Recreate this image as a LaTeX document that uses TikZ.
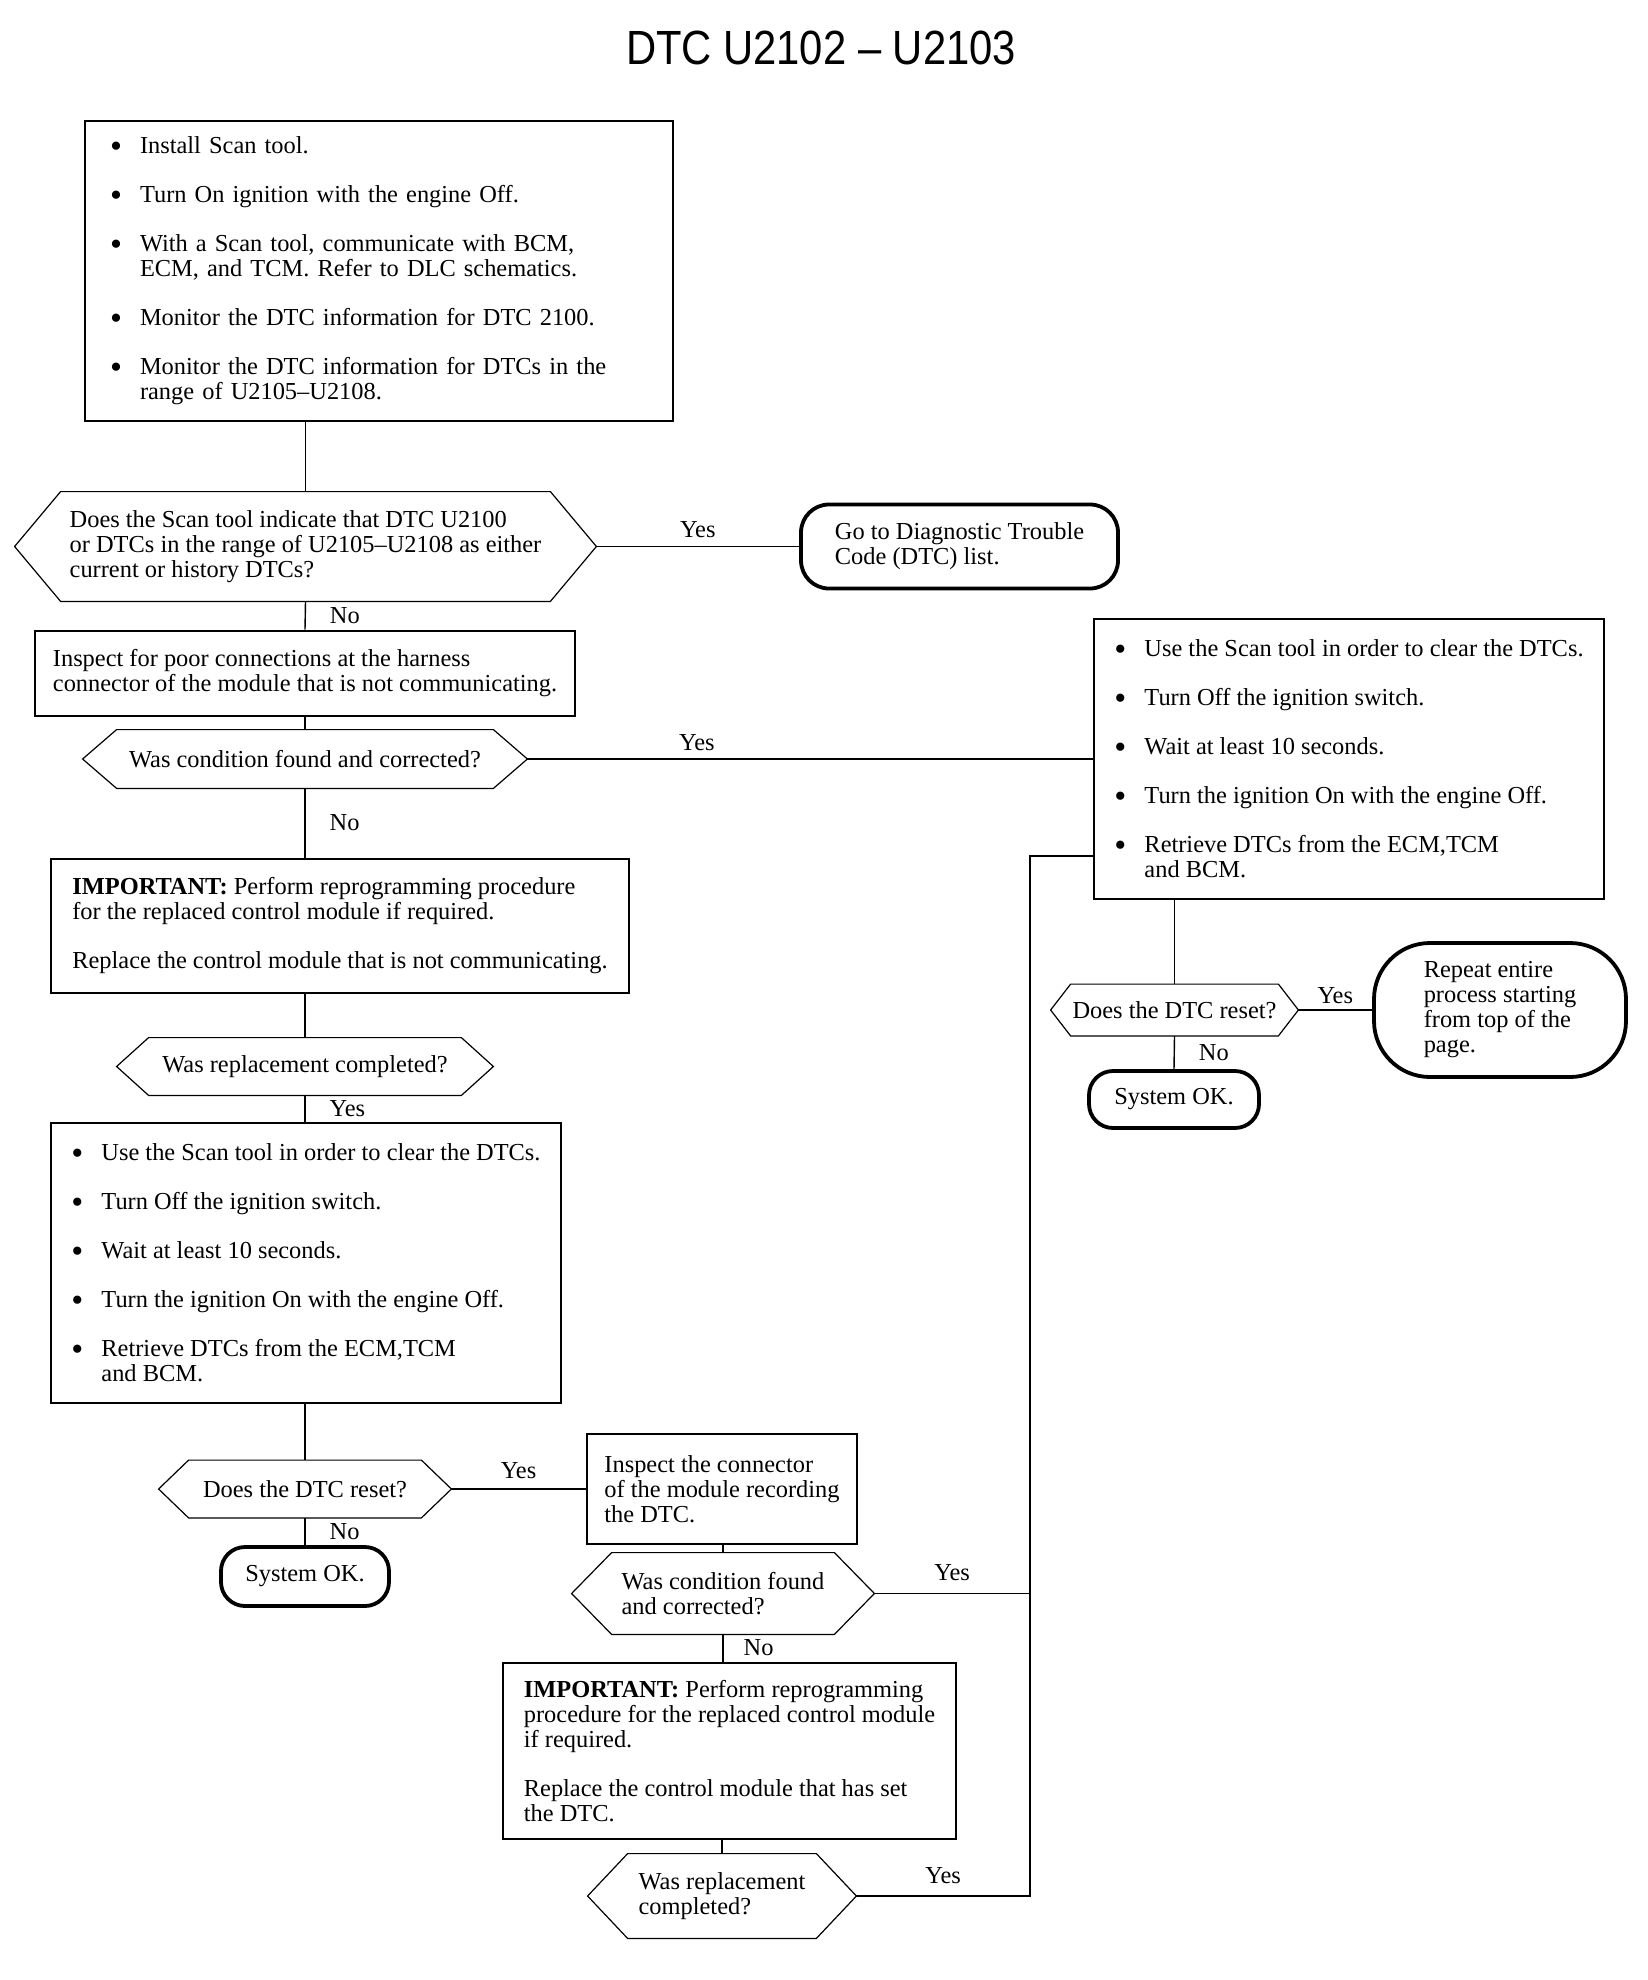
\documentclass[tikz,border=0pt]{standalone}
\usepackage{fontspec}
\setmainfont{Liberation Serif}
\newfontfamily\titlefont{Liberation Sans}
\usetikzlibrary{calc,positioning}
\newcommand{\flowfont}{\fontsize{12.2}{12.5}\selectfont}
\newcommand{\Bul}{\makebox[15pt][l]{\raisebox{-1.6pt}{\scalebox{1.4}{\textbullet}}}}
\newcommand{\Ind}{\hspace*{15pt}}
\tikzset{
    flow box/.style={draw, line width=1.4pt, align=left, inner sep=0pt, font=\flowfont},
    query hex/.style={align=left, inner sep=0pt, font=\flowfont},
    hex line/.style={line width=0.6pt, line join=miter},
    end cap/.style={draw, line width=1.9pt, rounded corners=14pt, align=left,
        inner sep=0pt, font=\flowfont},
    flow line/.style={line width=0.7pt},
    answer/.style={inner sep=0pt, font=\flowfont}
}

\begin{document}
\begin{tikzpicture}[x=0.5pt,y=-0.5pt]
    \useasboundingbox (0,0) rectangle (1648,1980);
    \node[font=\titlefont\fontsize{24}{28}\selectfont] (title) at (821,48)
        {\scalebox{0.87}[1]{DTC U2102 – U2103}};
    % left column
    \node[flow box, text width=269pt, inner xsep=12.5pt, minimum height=150pt]
        (start) at (379,271) {%
        \Bul Install Scan tool.\\[12pt]
        \Bul Turn On ignition with the engine Off.\\[12pt]
        \Bul With a Scan tool, communicate with BCM,\\
        \Ind ECM, and TCM. Refer to DLC schematics.\\[12pt]
        \Bul Monitor the DTC information for DTC 2100.\\[12pt]
        \Bul Monitor the DTC information for DTCs in the\\
        \Ind range of U2105–U2108.};
    \node[query hex, minimum width=290.5pt, minimum height=54.5pt] (q1) at (305.5,546.5)
        {Does the Scan tool indicate that DTC U2100\\
        or DTCs in the range of U2105–U2108 as either\\
        current or history DTCs?};
    \node[end cap, minimum width=158.5pt, minimum height=42pt] (gotodtc) at (959.5,546.5)
        {Go to Diagnostic Trouble\\Code (DTC) list.};
    \node[flow box, minimum width=270pt, minimum height=42.5pt] (inspect1) at (305,673.5)
        {Inspect for poor connections at the harness\\
        connector of the module that is not communicating.};
    \node[query hex, minimum width=222pt, minimum height=29pt] (q2) at (305,759)
        {Was condition found and corrected?};
    \node[flow box, minimum width=289pt, minimum height=67pt] (replace1) at (340,926)
        {\textbf{IMPORTANT:} Perform reprogramming procedure\\
        for the replaced control module if required.\\[12pt]
        Replace the control module that is not communicating.};
    \node[query hex, minimum width=188pt, minimum height=28.5pt] (q3) at (305,1066.5)
        {Was replacement completed?};
    \node[flow box, minimum width=255pt, minimum height=140pt] (clear2) at (306,1263) {%
        \Bul Use the Scan tool in order to clear the DTCs.\\[12pt]
        \Bul Turn Off the ignition switch.\\[12pt]
        \Bul Wait at least 10 seconds.\\[12pt]
        \Bul Turn the ignition On with the engine Off.\\[12pt]
        \Bul Retrieve DTCs from the ECM,TCM\\
        \Ind and BCM.};
    \node[query hex, minimum width=146pt, minimum height=28.5pt] (q4) at (305,1489)
        {Does the DTC reset?};
    \node[end cap, rounded corners=12pt, minimum width=84pt, minimum height=29.5pt]
        (ok1) at (305,1576.5) {System OK.};
    % middle column
    \node[flow box, minimum width=135pt, minimum height=55pt] (inspect2) at (722,1489)
        {Inspect the connector\\of the module recording\\the DTC.};
    \node[query hex, minimum width=151pt, minimum height=40.5pt] (q5) at (723,1593.5)
        {Was condition found\\and corrected?};
    \node[flow box, minimum width=226.5pt, minimum height=88pt] (replace2) at (729.5,1751)
        {\textbf{IMPORTANT:} Perform reprogramming\\
        procedure for the replaced control module\\
        if required.\\[12pt]
        Replace the control module that has set\\
        the DTC.};
    \node[query hex, minimum width=134pt, minimum height=42pt] (q6) at (722,1896)
        {Was replacement\\completed?};
    % right column
    \node[flow box, minimum width=255pt, minimum height=140pt] (clear1) at (1349,759) {%
        \Bul Use the Scan tool in order to clear the DTCs.\\[12pt]
        \Bul Turn Off the ignition switch.\\[12pt]
        \Bul Wait at least 10 seconds.\\[12pt]
        \Bul Turn the ignition On with the engine Off.\\[12pt]
        \Bul Retrieve DTCs from the ECM,TCM\\
        \Ind and BCM.};
    \node[query hex, minimum width=123.5pt, minimum height=25.5pt] (q7) at (1174.5,1010)
        {Does the DTC reset?};
    \node[end cap, rounded corners=28pt, minimum width=126pt, minimum height=67pt]
        (repeat) at (1500,1010)
        {Repeat entire\\process starting\\from top of the\\page.};
    \node[end cap, rounded corners=12pt, minimum width=85pt, minimum height=28.5pt]
        (ok2) at (1174,1099.5) {System OK.};
    \coordinate (rail top) at (1030,856);
    % decision outlines
    \foreach \q/\d in {q1/23,q2/17,q3/16,q4/15,q5/20,q6/20,q7/10}
        \draw[hex line] (\q.west) -- ([xshift=\d pt]\q.north west)
            -- ([xshift=-\d pt]\q.north east) -- (\q.east)
            -- ([xshift=-\d pt]\q.south east) -- ([xshift=\d pt]\q.south west) -- cycle;
    % connectors
    \draw[flow line] (q1.north |- start.south) -- (q1.north);
    \draw[flow line] (q1.east) -- node[answer, above=4pt] {Yes} (gotodtc.west);
    \draw[flow line] (q1.south) -- node[answer, right=12pt] {No} (inspect1.north);
    \draw[flow line] (inspect1.south) -- (q2.north);
    \draw[flow line] (q2.east) -- node[answer, above=4pt, pos=.3] {Yes} (clear1.west);
    \draw[flow line] (q2.south) -- node[answer, right=12pt] {No} (q2.south |- replace1.north);
    \draw[flow line] (q3.north |- replace1.south) -- (q3.north);
    \draw[flow line] (q3.south) -- node[answer, right=12pt] {Yes} (q3.south |- clear2.north);
    \draw[flow line] (q4.north |- clear2.south) -- (q4.north);
    \draw[flow line] (q4.east) -- node[answer, above=5pt] {Yes} (inspect2.west);
    \draw[flow line] (q4.south) -- node[answer, right=12pt] {No} (ok1.north);
    \draw[flow line] (q5.north |- inspect2.south) -- (q5.north);
    \draw[flow line] (q5.east) -- node[answer, above=6pt] {Yes} (q5.east -| rail top);
    \draw[flow line] (q5.south) -- node[answer, right=10pt] {No} (q5.south |- replace2.north);
    \draw[flow line] (q6.north |- replace2.south) -- (q6.north);
    \draw[flow line] (q6.east) -- node[answer, above=6pt] {Yes} (q6.east -| rail top)
        -- (rail top) -- (rail top -| clear1.west);
    \draw[flow line] (q7.north |- clear1.south) -- (q7.north);
    \draw[flow line] (q7.east) -- node[answer, above=3pt] {Yes} (repeat.west);
    \draw[flow line] (q7.south) -- node[answer, right=12pt] {No} (ok2.north);
\end{tikzpicture}
\end{document}
